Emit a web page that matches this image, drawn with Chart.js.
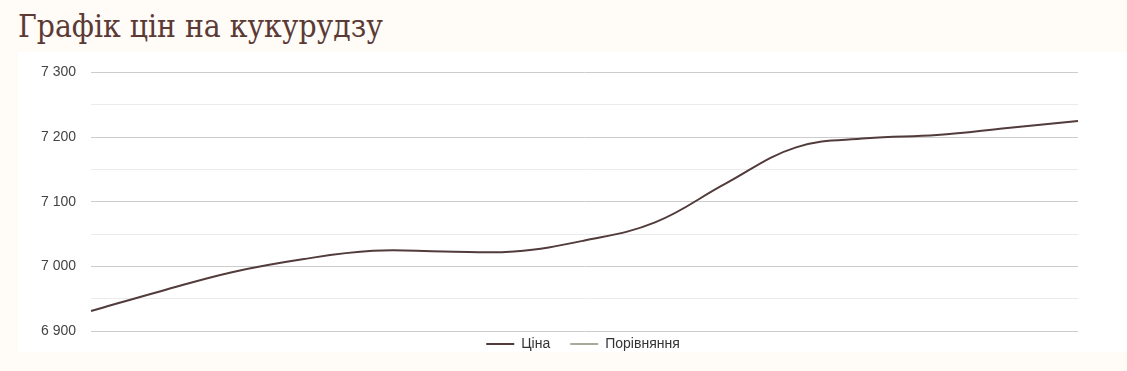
<!DOCTYPE html>
<html lang="uk">
<head>
<meta charset="utf-8">
<title>Графік цін на кукурудзу</title>
<script src="https://cdn.jsdelivr.net/npm/chart.js@4"></script>
<style>
    html, body {
        margin: 0;
        padding: 0;
        background: #fffbf7;
        overflow: hidden;
    }
    h1 {
        position: absolute;
        left: 18px;
        top: 8px;
        margin: 0;
        font-family: "DejaVu Serif Condensed", "DejaVu Serif", serif;
        font-stretch: condensed;
        font-weight: normal;
        font-size: 31.5px;
        color: #5b3a36;
        white-space: nowrap;
    }
    .panel {
        position: absolute;
        left: 18px;
        top: 52px;
        width: 1109px;
        height: 300px;
        background: #ffffff;
    }
    #priceChart {
        position: absolute;
        left: 0;
        top: -3px;
    }
</style>
</head>
<body>
<h1>Графік цін на кукурудзу</h1>
<div class="panel">
    <canvas id="priceChart"></canvas>
</div>
<script>
const dates = [
    "01.10", "02.10", "03.10", "04.10", "05.10",
    "06.10", "07.10", "08.10", "09.10", "10.10",
    "11.10", "12.10", "13.10", "14.10", "15.10"
];
const prices = [
    6931, 6962, 6991, 7011, 7024,
    7023, 7023, 7040, 7068, 7128,
    7184, 7198, 7203, 7214, 7225
];
const comparison = [];

const priceCanvas = document.getElementById("priceChart");
priceCanvas.width = 1109;
priceCanvas.height = 326;

const formatPrice = (v) => String(v).replace(/\B(?=(\d{3})+(?!\d))/g, " ");

// legend sits closer to the plot than Chart.js would put it
const legendNudge = {
    id: "legendNudge",
    afterLayout(chart) {
        const lg = chart.legend;
        lg.top -= 14;
        lg.bottom -= 14;
        lg.left += 31;
        lg.right += 31;
    }
};

let priceChart = new Chart(priceCanvas, {
    type: "line",
    plugins: [legendNudge],
    data: {
        labels: dates,
        datasets: [
            {
                label: "Ціна",
                data: prices,
                borderColor: "#523b3b",
                backgroundColor: "#523b3b",
                borderWidth: 2,
                pointRadius: 0,
                tension: 0.4
            },
            {
                label: "Порівняння",
                data: comparison,
                borderColor: "#a9a99c",
                backgroundColor: "#a9a99c",
                borderWidth: 2,
                pointRadius: 0
            }
        ]
    },
    options: {
        responsive: false,
        animation: false,
        layout: { padding: { left: 8, right: 49, top: 0, bottom: 0 } },
        scales: {
            x: { display: false },
            y: {
                min: 6900,
                max: 7300,
                border: { display: false },
                grid: {
                    drawTicks: false,
                    color: (ctx) => ctx.tick && ctx.tick.value % 100 === 0 ? "#cccccc" : "#ebebeb"
                },
                ticks: {
                    stepSize: 50,
                    padding: 15,
                    color: "#444444",
                    font: { family: "Liberation Sans, Arial, sans-serif", size: 14 },
                    callback: (v) => v % 100 === 0 ? formatPrice(v) : ""
                }
            }
        },
        plugins: {
            tooltip: { enabled: false },
            legend: {
                position: "bottom",
                labels: {
                    usePointStyle: true,
                    pointStyle: "line",
                    pointStyleWidth: 28,
                    padding: 20,
                    color: "#333333",
                    font: { family: "Liberation Sans, Arial, sans-serif", size: 14 }
                }
            }
        }
    }
});
</script>
</body>
</html>
